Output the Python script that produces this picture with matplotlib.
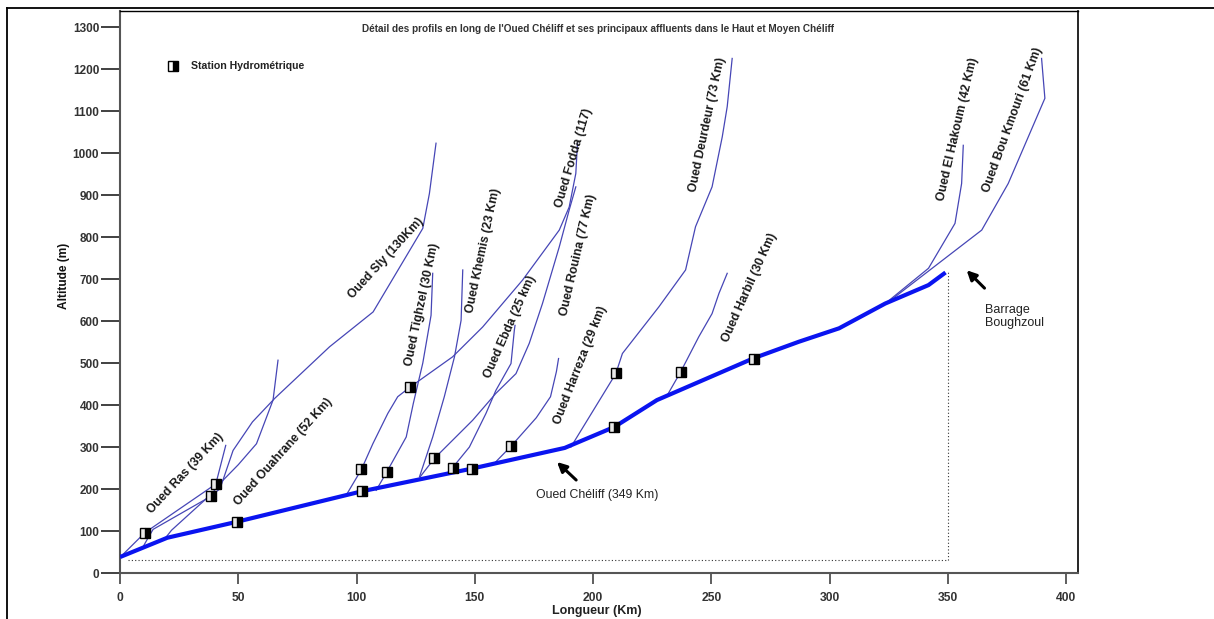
import matplotlib
matplotlib.use("Agg")
import matplotlib.pyplot as plt
from matplotlib.lines import Line2D
from matplotlib import font_manager

# ---------------------------------------------------------------- data
# Main channel: Oued Chéliff (distance km, altitude m)
cheliff_km = [0, 20, 49.4, 102.5, 149, 188, 209, 227, 268, 287, 304, 323.5, 341.8, 349]
cheliff_alt = [38, 84, 122, 195, 249, 298, 348, 412, 512, 551, 583, 642, 686, 716]

# Tributaries
ras_km = [0.5, 10.5, 40.5, 44.7]
ras_alt = [40, 96, 212, 304]

sly_km = [9.5, 12, 14, 38.5, 42.3, 47.8, 56, 65.4, 88.6, 107, 128, 130.8, 133.6]
sly_alt = [60, 85, 104, 183, 201, 292, 360, 416, 539, 622, 821, 904, 1024]

ouahrane_km = [19, 21.8, 39, 42, 50, 57.7, 64.7, 66.8]
ouahrane_alt = [82, 102, 190, 212, 258, 308, 412, 507]

fodda_km = [96, 102, 106.9, 113.2, 117.4, 122.4, 140.6, 153.3, 170.2, 185.7, 189.9, 192.7, 193.4]
fodda_alt = [189, 246, 308, 380, 420, 442, 515, 586, 698, 817, 872, 952, 1024]

tighzel_km = [108.3, 112.8, 121, 124, 128, 131.5, 132.2]
tighzel_alt = [197, 241, 324, 404, 500, 614, 714]

khemis_km = [126.6, 132.2, 137.1, 141.4, 144.2, 144.9]
khemis_alt = [229, 324, 420, 515, 602, 722]

rouina_km = [127, 132.9, 149.1, 158.9, 167.4, 173, 178.6, 185.7, 189.9, 192.7]
rouina_alt = [230, 273, 364, 428, 475, 547, 642, 777, 865, 920]

ebda_km = [140.6, 147.7, 154.7, 158.9, 165.3, 166.7, 167]
ebda_alt = [251, 300, 380, 435, 499, 578, 590]

harreza_km = [158.2, 165.3, 176, 182, 184.5, 185.4]
harreza_alt = [261, 302, 370, 420, 480, 511]

deurdeur_km = [190.6, 209.6, 212.4, 227.8, 239.1, 243.3, 250.3, 254.6, 256.7, 258.8]
deurdeur_alt = [300, 475, 523, 634, 722, 825, 920, 1039, 1111, 1226]

harbil_km = [231.4, 237, 244.7, 250.3, 253.2, 256.7]
harbil_alt = [424, 479, 563, 618, 666, 714]

hakoum_km = [323.5, 341.8, 353, 355.8, 356.5]
hakoum_alt = [642, 726, 833, 928, 1019]

boukmouri_km = [324.9, 364.3, 375.5, 391, 389.6]
boukmouri_alt = [646, 817, 928, 1131, 1226]

# Gauging stations
station_km = [10.5, 40.5, 38.5, 49.4, 102, 102.5, 112.8, 122.4, 132.9, 140.6, 149, 165.3, 208.9, 209.6, 237, 268]
station_alt = [96, 212, 183, 122, 247, 195, 241, 442, 274, 251, 248, 302, 348, 477, 480, 511]

# Reference frame (dotted) of the main profile
ref_base_alt = 32
ref_start_km = 3.4

# Rotated labels of the tributaries
trib_names = ["Oued Ras (39 Km)", "Oued Ouahrane (52 Km)", "Oued Sly (130Km)",
              "Oued Tighzel (30 Km)", "Oued Khemis (23 Km)", "Oued Ebda (25 km)",
              "Oued Fodda (117)", "Oued Rouina (77 Km)", "Oued Harreza (29 km)",
              "Oued Deurdeur (73 Km)", "Oued Harbil (30 Km)",
              "Oued El Hakoum (42 Km)", "Oued Bou Kmouri (61 Km)"]

# ---------------------------------------------------------------- fonts
def pick(*names):
    avail = {f.name for f in font_manager.fontManager.ttflist}
    for n in names:
        if n in avail:
            return n
    return "DejaVu Sans"

NARROW = pick("Liberation Sans Narrow", "Liberation Sans", "DejaVu Sans")
ARIAL = pick("Liberation Sans", "DejaVu Sans")

# ---------------------------------------------------------------- figure
W, H = 1214, 619
fig = plt.figure(figsize=(W / 100, H / 100), dpi=100)
ax = fig.add_axes([120 / W, 1 - 573 / H, (1078 - 120) / W, (573 - 11) / H])
ax.set_xlim(0, 405)
ax.set_ylim(0, 1339)

trib_color = "#4646b6"
main_color = "#0a14f0"

for xs, ys in [(ras_km, ras_alt), (sly_km, sly_alt), (ouahrane_km, ouahrane_alt),
               (fodda_km, fodda_alt), (tighzel_km, tighzel_alt), (khemis_km, khemis_alt),
               (rouina_km, rouina_alt), (ebda_km, ebda_alt), (harreza_km, harreza_alt),
               (deurdeur_km, deurdeur_alt), (harbil_km, harbil_alt),
               (hakoum_km, hakoum_alt), (boukmouri_km, boukmouri_alt)]:
    ax.plot(xs, ys, color=trib_color, lw=0.9, zorder=2)

ax.plot(cheliff_km, cheliff_alt, color=main_color, lw=3.0, solid_capstyle="butt", zorder=3)

# dotted reference frame
end_km, end_alt = cheliff_km[-1], cheliff_alt[-1]
ax.plot([ref_start_km, end_km + 1, end_km + 1], [ref_base_alt, ref_base_alt, end_alt],
        color="#333333", lw=0.8, ls=(0, (1, 2)), zorder=1)

# stations
ax.plot(station_km, station_alt, ls="none", marker="s", ms=7.5, fillstyle="right",
        markerfacecolor="black", markerfacecoloralt="#e8e8e8", markeredgecolor="black",
        markeredgewidth=1.0, zorder=5)

# legend entry
ax.plot([22.2], [1208], ls="none", marker="s", ms=6.5, fillstyle="right",
        markerfacecolor="black", markerfacecoloralt="white", markeredgecolor="black",
        markeredgewidth=1.0, zorder=5)
ax.text(29.9, 1207, "Station Hydrométrique", family=NARROW, weight="bold",
        fontsize=7.6, va="center", ha="left", color="#222222")

# tributary labels
label_pos = [(27.7, 238, 47), (68.9, 288, 48), (112.4, 751, 47.5), (127.9, 640, 78),
             (153.8, 769, 78), (164.8, 586, 66), (191.9, 989, 73.5), (193.6, 757, 77),
             (194.8, 495, 68.6), (248.5, 1069, 78), (266.3, 681, 66), (354, 1058, 77),
             (377.2, 1079, 70)]
for name, (x, y, r) in zip(trib_names, label_pos):
    ax.text(x, y, name, rotation=r, rotation_mode="anchor", ha="center", va="center",
            family=ARIAL, weight="bold", fontsize=8.8, color="#1a1a1a")

# annotations
ax.annotate("", xy=(183.9, 269), xytext=(193.7, 217),
            arrowprops=dict(arrowstyle="-|>", color="black", lw=2.2, mutation_scale=14))
ax.text(201.8, 185, "Oued Chéliff (349 Km)", family=NARROW, fontsize=8.8,
        ha="center", va="center", color="#222222")
ax.annotate("", xy=(357.1, 726), xytext=(366.3, 674),
            arrowprops=dict(arrowstyle="-|>", color="black", lw=2.2, mutation_scale=14))
ax.text(365.6, 611, "Barrage\nBoughzoul", family=NARROW, fontsize=9,
        ha="left", va="center", color="#222222", linespacing=1.1)

# title
ax.text(202.2, 1296, "Détail des profils en long de l'Oued Chéliff et ses principaux "
        "affluents dans le Haut et Moyen Chéliff", family=NARROW, weight="bold",
        fontsize=7.2, ha="center", va="center", color="#333333")

# axes styling
ax.set_xticks(range(0, 401, 50))
ax.set_yticks(range(0, 1301, 100))
ax.tick_params(axis="y", direction="out", length=14, width=1.3, color="#333333",
               labelsize=8.5, pad=1)
ax.tick_params(axis="x", direction="out", length=8, width=1.1, color="#333333",
               labelsize=8.7, pad=6)
for lab in ax.get_xticklabels() + ax.get_yticklabels():
    lab.set_family(NARROW)
    lab.set_weight("bold")
    lab.set_color("#333333")
ax.spines["left"].set_color("#555555")
ax.spines["left"].set_linewidth(1.5)
ax.spines["bottom"].set_color("#555555")
ax.spines["bottom"].set_linewidth(1.5)
ax.spines["top"].set_color("black")
ax.spines["top"].set_linewidth(1.0)
ax.spines["right"].set_color("black")
ax.spines["right"].set_linewidth(1.2)

ax.set_ylabel("Altitude (m)", family=ARIAL, weight="bold", fontsize=8.6, color="#111111")
ax.yaxis.set_label_coords(-50 / 958, 1 - (276 - 11) / 562)
ax.set_xlabel("Longueur (Km)", family=NARROW, weight="bold", fontsize=9, color="#222222",
              va="center")
ax.xaxis.set_label_coords(0.498, -(611 - 573) / 562)

# outer page frame
fig.add_artist(Line2D([7 / W, 1.0], [1 - 8 / H, 1 - 8 / H], transform=fig.transFigure,
                      color="black", lw=1.3))
fig.add_artist(Line2D([7 / W, 7 / W], [0, 1 - 8 / H], transform=fig.transFigure,
                      color="black", lw=1.3))

fig.savefig("out.png", dpi=100)
